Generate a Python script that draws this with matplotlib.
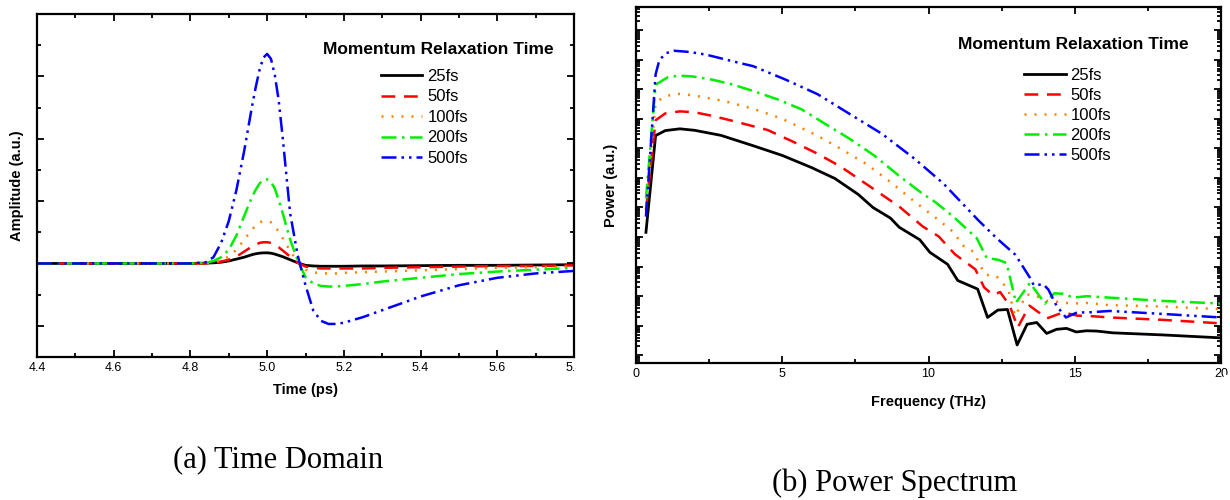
import matplotlib
matplotlib.use("Agg")
import matplotlib.pyplot as plt
import numpy as np
from matplotlib.ticker import MultipleLocator, LogLocator, NullFormatter
from matplotlib.patches import Rectangle

# ---- data ----
labels = ["25fs", "50fs", "100fs", "200fs", "500fs"]
colors = ["#000000", "#ff0000", "#ff8000", "#00ee00", "#0000ff"]
styles = ["-", (0, (5.5, 3.5)), (0, (0.8, 3.2)), (0, (6, 2.2, 1, 2.2)),
          (0, (6, 2, 1, 2, 1, 2))]

# (a) time domain, amplitude in arbitrary units
time_ps = [4.40, 4.80, 4.84, 4.86, 4.88, 4.90, 4.92, 4.94, 4.96, 4.97, 4.98, 4.99,
           5.00, 5.01, 5.02, 5.03, 5.04, 5.06, 5.08, 5.10, 5.12, 5.14, 5.16, 5.18,
           5.20, 5.25, 5.30, 5.40, 5.50, 5.60, 5.70, 5.80]
amp_25 = [0, 0, 0.005, 0.01, 0.02, 0.04, 0.07, 0.10, 0.14, 0.155, 0.165, 0.17,
          0.17, 0.165, 0.15, 0.13, 0.11, 0.06, 0.01, -0.03, -0.04, -0.045, -0.045, -0.045,
          -0.045, -0.04, -0.04, -0.035, -0.03, -0.03, -0.025, -0.02]
amp_50 = [0, 0, 0.0, 0.01, 0.03, 0.06, 0.11, 0.19, 0.27, 0.30, 0.33, 0.34,
          0.34, 0.33, 0.30, 0.26, 0.21, 0.11, 0.01, -0.05, -0.07, -0.08, -0.08, -0.08,
          -0.08, -0.08, -0.07, -0.06, -0.05, -0.04, -0.04, -0.03]
amp_100 = [0, 0, 0.0, 0.02, 0.05, 0.11, 0.22, 0.38, 0.54, 0.61, 0.66, 0.68,
           0.68, 0.66, 0.60, 0.51, 0.41, 0.20, 0.02, -0.10, -0.14, -0.16, -0.16, -0.16,
           -0.15, -0.14, -0.13, -0.11, -0.09, -0.07, -0.06, -0.05]
amp_200 = [0, 0, 0.01, 0.04, 0.10, 0.22, 0.45, 0.76, 1.06, 1.18, 1.28, 1.34,
           1.35, 1.31, 1.20, 1.02, 0.82, 0.38, 0.04, -0.22, -0.32, -0.36, -0.37, -0.37,
           -0.36, -0.33, -0.29, -0.23, -0.17, -0.13, -0.10, -0.07]
amp_500 = [0, 0, 0.02, 0.10, 0.33, 0.68, 1.18, 1.80, 2.50, 2.82, 3.10, 3.30,
           3.36, 3.28, 3.02, 2.62, 2.05, 0.80, 0.12, -0.35, -0.75, -0.92, -0.97, -0.97,
           -0.95, -0.86, -0.75, -0.53, -0.35, -0.23, -0.16, -0.12]
amps = [amp_25, amp_50, amp_100, amp_200, amp_500]

# (b) power spectrum, log10 of power (a.u.)
f_25 = [0.34, 0.67, 1.0, 1.5, 2.0, 2.9, 4.0, 5.0, 6.0, 6.8, 7.6, 8.1, 8.7, 9.0, 9.7,
        10.05, 10.65, 11.0, 11.68, 12.02, 12.37, 12.7, 13.03, 13.37, 13.7, 14.04,
        14.38, 14.72, 15.05, 15.4, 15.75, 16.3, 18.0, 20.0]
lp_25 = [4.16, 7.43, 7.60, 7.66, 7.61, 7.44, 7.09, 6.76, 6.35, 5.98, 5.44, 5.0, 4.64,
         4.33, 3.91, 3.48, 3.08, 2.53, 2.24, 1.28, 1.53, 1.55, 0.35, 1.05, 1.11, 0.74,
         0.88, 0.91, 0.79, 0.83, 0.82, 0.76, 0.69, 0.59]
f_50 = [0.34, 0.67, 1.0, 1.5, 2.0, 2.6, 3.3, 4.5, 5.4, 6.2, 7.0, 8.1, 9.0, 9.8, 10.35,
        10.9, 11.6, 11.9, 12.2, 12.45, 12.78, 13.05, 13.45, 14.05, 14.6, 15.1, 15.5,
        16.2, 18.0, 20.0]
lp_50 = [4.9, 7.95, 8.18, 8.25, 8.22, 8.10, 7.93, 7.62, 7.21, 6.82, 6.38, 5.64, 5.03,
         4.36, 4.02, 3.42, 2.91, 2.30, 2.04, 2.14, 1.67, 0.94, 1.68, 1.25, 1.45, 1.34,
         1.33, 1.28, 1.20, 1.08]
f_100 = [0.34, 0.67, 1.0, 1.46, 1.88, 2.31, 2.74, 3.17, 3.59, 4.0, 5.0, 6.2, 6.9, 7.86,
         8.69, 9.52, 10.34, 10.9, 11.13, 11.53, 11.93, 12.33, 12.73, 12.96, 13.36, 13.7,
         14.04, 14.5, 14.94, 15.28, 15.75, 16.15, 18.0, 20.0]
lp_100 = [5.0, 8.55, 8.77, 8.84, 8.80, 8.73, 8.65, 8.56, 8.45, 8.34, 8.0, 7.43, 7.04,
          6.48, 5.87, 5.2, 4.58, 4.13, 3.74, 3.51, 2.73, 2.67, 2.22, 1.33, 2.06, 2.0,
          1.84, 1.8, 1.74, 1.78, 1.74, 1.70, 1.65, 1.56]
f_200 = [0.34, 0.67, 1.08, 1.48, 1.94, 2.62, 3.3, 4.0, 4.83, 5.66, 6.48, 7.31, 8.14,
         8.97, 9.79, 10.22, 10.85, 11.65, 11.99, 12.39, 12.67, 12.99, 13.47, 13.98,
         14.3, 14.6, 14.95, 15.41, 16.2, 18.0, 20.0]
lp_200 = [5.3, 9.15, 9.40, 9.46, 9.43, 9.32, 9.16, 8.94, 8.66, 8.32, 7.82, 7.32, 6.76,
          6.09, 5.47, 5.19, 4.69, 3.96, 3.29, 3.23, 3.12, 1.78, 2.45, 1.75, 2.1, 2.08,
          1.95, 2.0, 1.95, 1.84, 1.75]
f_500 = [0.34, 0.67, 0.8, 1.03, 1.31, 1.82, 2.39, 2.96, 3.53, 4.0, 5.1, 6.21, 7.31,
         8.41, 9.52, 10.51, 11.7, 12.33, 12.97, 13.47, 13.6, 13.93, 14.1, 14.38, 14.7,
         15.08, 15.45, 16.2, 18.0, 20.0]
lp_500 = [4.69, 9.5, 9.99, 10.22, 10.30, 10.26, 10.17, 10.03, 9.89, 9.78, 9.33, 8.83,
          8.16, 7.49, 6.65, 5.81, 4.57, 3.96, 3.40, 2.62, 2.37, 2.40, 2.22, 1.67, 1.28,
          1.45, 1.45, 1.50, 1.40, 1.28]
freqs = [f_25, f_50, f_100, f_200, f_500]
logpows = [lp_25, lp_50, lp_100, lp_200, lp_500]

legend_title = "Momentum Relaxation Time"

plt.rcParams["font.family"] = ["Liberation Sans", "DejaVu Sans"]

fig = plt.figure(figsize=(12.3, 5), dpi=100)
ax1 = fig.add_axes([37 / 1230, 1 - 357 / 500, 537 / 1230, 343 / 500])
ax2 = fig.add_axes([636 / 1230, 1 - 363 / 500, 585 / 1230, 356 / 500])

for i in range(5):
    lw = 2.0 if i == 0 else 1.8
    ax1.plot(time_ps, amps[i], color=colors[i], linestyle=styles[i], lw=lw,
             label=labels[i])
    ax2.plot(freqs[i], 10 ** np.array(logpows[i]), color=colors[i],
             linestyle=styles[i], lw=lw, label=labels[i])

# panel (a)
ax1.set_xlim(4.4, 5.8)
ax1.set_ylim(-1.5, 4.0)
ax1.xaxis.set_major_locator(MultipleLocator(0.2))
ax1.xaxis.set_minor_locator(MultipleLocator(0.1))
ax1.yaxis.set_major_locator(MultipleLocator(1))
ax1.yaxis.set_minor_locator(MultipleLocator(0.5))
ax1.xaxis.set_major_formatter(matplotlib.ticker.FormatStrFormatter("%.1f"))
ax1.yaxis.set_major_formatter(NullFormatter())
ax1.set_xlabel("Time (ps)", fontsize=10.5, fontweight="bold")
ax1.set_ylabel("Amplitude (a.u.)", fontsize=10.5, fontweight="bold")
ax1.xaxis.set_label_coords(0.5, -0.075)
ax1.yaxis.set_label_coords(-0.025, 0.5)

# panel (b)
ax2.set_yscale("log")
ax2.set_xlim(0, 20)
ax2.set_ylim(10 ** -0.26, 10 ** 11.78)
ax2.xaxis.set_major_locator(MultipleLocator(5))
ax2.xaxis.set_minor_locator(MultipleLocator(2.5))
ax2.yaxis.set_major_locator(LogLocator(base=10, numticks=30))
ax2.yaxis.set_minor_locator(LogLocator(base=10, subs=np.arange(2, 10), numticks=30))
ax2.yaxis.set_major_formatter(NullFormatter())
ax2.yaxis.set_minor_formatter(NullFormatter())
ax2.set_xlabel("Frequency (THz)", fontsize=10.5, fontweight="bold")
ax2.set_ylabel("Power (a.u.)", fontsize=10.5, fontweight="bold")
ax2.xaxis.set_label_coords(0.5, -0.09)
ax2.yaxis.set_label_coords(-0.03, 0.5)

for ax in (ax1, ax2):
    for s in ax.spines.values():
        s.set_linewidth(1.6)
    ax.tick_params(which="both", direction="in", top=True, right=True,
                   labelsize=9, width=1.3)
    ax.tick_params(which="major", length=5)
    ax.tick_params(which="minor", length=3)

ax1.text(0.747, 0.897, legend_title, transform=ax1.transAxes, ha="center",
         va="center", fontsize=12.5, fontweight="bold")
ax1.legend(loc="upper left", bbox_to_anchor=(0.64, 0.84), frameon=False,
           fontsize=12, handlelength=2.5, handletextpad=0.3, labelspacing=0.33,
           borderpad=0, borderaxespad=0)
ax2.text(0.747, 0.894, legend_title, transform=ax2.transAxes, ha="center",
         va="center", fontsize=12.5, fontweight="bold")
ax2.legend(loc="upper left", bbox_to_anchor=(0.663, 0.83), frameon=False,
           fontsize=12, handlelength=2.5, handletextpad=0.3, labelspacing=0.3,
           borderpad=0, borderaxespad=0)

# both panels were cropped just right of their frames
fig.patches.append(Rectangle((576 / 1230, 0.15), 22 / 1230, 0.14,
                             transform=fig.transFigure, color="white", zorder=10))
fig.patches.append(Rectangle((1224 / 1230, 0.15), 6 / 1230, 0.1,
                             transform=fig.transFigure, color="white", zorder=10))

fig.text(278 / 1230, 1 - 460 / 500, "(a) Time Domain", ha="center", va="center",
         fontsize=22, family=["Liberation Serif", "DejaVu Serif"])
fig.text(895 / 1230, 1 - 483 / 500, "(b) Power Spectrum", ha="center", va="center",
         fontsize=22, family=["Liberation Serif", "DejaVu Serif"])

fig.savefig("out.png", dpi=100)
